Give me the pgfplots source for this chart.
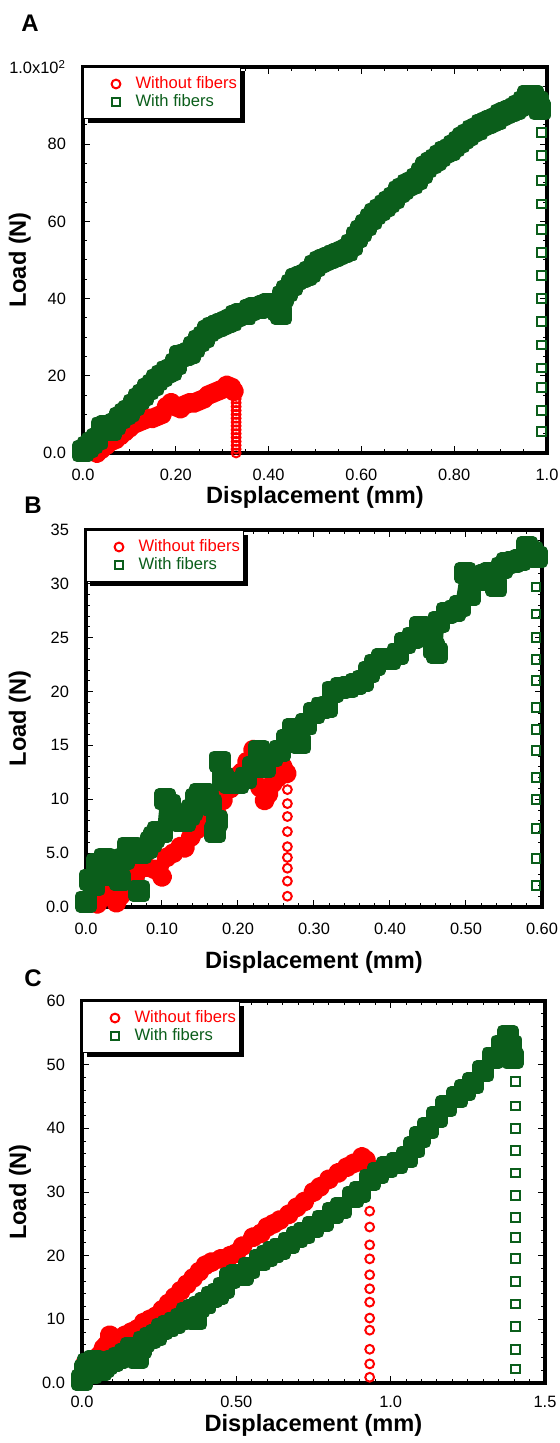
\documentclass[border=0pt]{standalone}
\usepackage{fontspec}
\setmainfont{Liberation Sans}
\usepackage{pgfplots}
\pgfplotsset{compat=1.18}
\usetikzlibrary{shadows}
\definecolor{fred}{HTML}{FF0000}
\definecolor{fgreen}{HTML}{0B5E1B}

\pgfplotsset{
  panel/.style={
    scale only axis, anchor=north west, clip=false,
    axis line style={line width=1.6pt},
    tick align=inside, xtick pos=both, ytick pos=both,
    major tick length=3.5pt, minor tick length=2pt,
    every tick/.style={black, line width=0.5pt},
    tick label style={font=\fontsize{8.2}{9}\selectfont},
    xticklabel style={yshift=-4.5pt},
    yticklabel style={xshift=-5pt},
    label style={font=\bfseries\fontsize{11.8}{13}\selectfont},
    legend style={at={(0,1)}, anchor=north west, draw=black, line width=0.5pt,
      fill=white, font=\fontsize{8.3}{9}\selectfont, inner xsep=0pt, inner ysep=2.5pt,
      row sep=-2.5pt,
      drop shadow={shadow xshift=2pt, shadow yshift=-2pt, fill=black, opacity=1}},
    legend image code/.code={\path (-16pt,0) (7.5pt,0);
      \draw[##1] plot coordinates {(0pt,0pt)};},
    legend cell align=left,
    legend entries={\textcolor{fred}{Without fibers},\textcolor{fgreen}{With fibers}},
  },
  gband/.style={fgreen, line width=5pt, line join=round, mark=square*, mark size=3pt,
    mark options={fill=fgreen}, forget plot},
  rband/.style={fred, line width=4.5pt, line join=round, mark=*, mark size=2.8pt,
    mark options={fill=fred}, forget plot},
  rdrop/.style={only marks, fred, mark=o, mark size=2.2pt, mark options={line width=1pt}},
  gdrop/.style={only marks, fgreen, mark=square, mark size=2.2pt, mark options={line width=1pt}},
}

\begin{document}
\begin{tikzpicture}
\path[use as bounding box] (0,0) rectangle (279.5pt,-721.5pt);

\node[font=\bfseries\fontsize{12}{13}\selectfont] at (15pt,-11.5pt) {A};
\node[font=\bfseries\fontsize{12}{13}\selectfont] at (16.5pt,-252.5pt) {B};
\node[font=\bfseries\fontsize{12}{13}\selectfont] at (16.5pt,-489pt) {C};

% ---------- A ----------
\begin{axis}[panel, at={(41.5pt,-33.5pt)}, width=232pt, height=193pt,
    xmin=0, xmax=1, ymin=0, ymax=100,
    xtick={0,0.2,0.4,0.6,0.8,1}, xticklabels={0.0,0.20,0.40,0.60,0.80,1.0},
    ytick={0,20,40,60,80,100}, yticklabels={0.0,20,40,60,80,1.0x10\textsuperscript{2}},
    minor x tick num=3, minor y tick num=3,
    xlabel={Displacement (mm)}, ylabel={Load (N)},
    xlabel style={at={(axis description cs:0.5,-0.114)}, anchor=center},
    ylabel style={at={(axis description cs:-0.136,0.5)}, anchor=center}]
\addplot[rband] coordinates {
(0.03,0)(0.04,1)(0.05,2)(0.06,3)(0.07,3.5)(0.08,4.5)(0.09,5.5)(0.1,6.5)(0.11,7.5)
(0.12,8)(0.13,8.5)(0.14,9)(0.15,9)(0.16,9.5)(0.17,10)(0.18,12)(0.19,13)(0.2,12)
(0.21,11.5)(0.22,12.5)(0.23,13)(0.24,13)(0.25,13.5)(0.26,14)(0.27,15)(0.28,15.5)
(0.29,16)(0.3,16.5)(0.31,17.5)(0.32,17)(0.325,16)};
\addplot[gband] coordinates {
(0.0,0.5)(0.01,1.5)(0.02,2.5)(0.03,3.5)(0.04,6.5)(0.05,7)(0.06,6)(0.07,7.5)(0.08,9)
(0.09,10)(0.1,11)(0.11,12.5)(0.12,14)(0.13,15)(0.14,16.5)(0.15,17.5)(0.16,19)(0.17,20)
(0.18,21)(0.19,21.5)(0.2,23)(0.21,25)(0.22,25.5)(0.23,26)(0.24,27.5)(0.25,29)(0.26,30)
(0.27,31.5)(0.28,32.5)(0.29,33)(0.3,33.5)(0.31,34)(0.32,34.5)(0.33,35.5)(0.34,36)
(0.35,36)(0.36,37)(0.37,37.5)(0.38,37.5)(0.39,38)(0.4,38.5)(0.41,38)(0.42,37)(0.427,36)
(0.43,40.5)(0.44,42)(0.45,43.5)(0.46,45)(0.47,45.5)(0.48,46)(0.49,47)(0.5,48.5)
(0.51,49.5)(0.52,50)(0.53,50.5)(0.54,51)(0.55,51.5)(0.56,52)(0.57,52.5)(0.58,54)
(0.59,56)(0.6,57.5)(0.61,59)(0.62,60.5)(0.63,62)(0.64,63)(0.65,64)(0.66,65)(0.67,66)
(0.68,67.5)(0.69,68.5)(0.7,69.5)(0.71,70)(0.72,71)(0.73,72.5)(0.74,74)(0.75,75)
(0.76,76)(0.77,77)(0.78,78)(0.79,78.5)(0.8,79.5)(0.81,80.5)(0.82,81.5)(0.83,82.5)
(0.84,83.5)(0.85,84)(0.86,85)(0.87,85.5)(0.88,86)(0.89,86.5)(0.9,87.5)(0.91,88)
(0.92,88.5)(0.93,89)(0.94,90)(0.95,91)(0.96,92.5)(0.97,92.5)(0.98,91)(0.985,89)};
\addplot[rdrop] coordinates {
(0.33,15)(0.33,14)(0.33,13)(0.33,12)(0.33,11)(0.33,10)(0.33,9)(0.33,8)(0.33,7)
(0.33,6)(0.33,5)(0.33,4)(0.33,3)(0.33,2)(0.33,1)(0.33,0)};
\addplot[gdrop] coordinates {
(0.988,83)(0.988,77)(0.988,70.5)(0.988,64.5)(0.988,58)(0.988,52)(0.988,46)
(0.988,40)(0.988,34)(0.988,28)(0.988,22)(0.988,17)(0.988,11)(0.988,5.5)};
\end{axis}

% ---------- B ----------
\begin{axis}[panel, at={(43pt,-265pt)}, width=228pt, height=188.5pt,
    xmin=0, xmax=0.6, ymin=0, ymax=35,
    xtick={0,0.1,0.2,0.3,0.4,0.5,0.6}, xticklabels={0.0,0.10,0.20,0.30,0.40,0.50,0.60},
    ytick={0,5,10,15,20,25,30,35}, yticklabels={0.0,5.0,10,15,20,25,30,35},
    minor x tick num=4, minor y tick num=4,
    xlabel={Displacement (mm)}, ylabel={Load (N)},
    xlabel style={at={(axis description cs:0.5,-0.146)}, anchor=center},
    ylabel style={at={(axis description cs:-0.145,0.5)}, anchor=center}]
\addplot[rband] coordinates {
(0.015,0.3)(0.02,2)(0.025,1)(0.03,1.5)(0.035,2)(0.04,0.4)(0.045,1)(0.05,2)(0.055,2)
(0.06,2.5)(0.065,3)(0.07,3.5)(0.08,3.7)(0.09,3.5)(0.1,2.8)(0.106,4.6)(0.115,5)
(0.124,5.6)(0.13,5.5)(0.138,6.5)(0.146,7.2)(0.155,7.5)(0.16,8)(0.167,8.4)(0.173,8.5)
(0.18,9.9)(0.19,11)(0.198,12.1)(0.205,12.5)(0.212,13.5)(0.22,14.6)(0.225,13)
(0.229,11.1)(0.235,9.9)(0.24,10.5)(0.246,11.5)(0.252,12)(0.259,13)(0.264,12.4)};
\addplot[gband] coordinates {
(0,0.5)(0.005,2.5)(0.01,2)(0.015,4)(0.02,3.5)(0.025,4.5)(0.03,3)(0.035,3.5)(0.04,4)
(0.045,2.5)(0.05,4.5)(0.055,5.5)(0.06,5.5)(0.065,5)(0.07,1.5)(0.072,5)(0.08,5.5)
(0.085,6)(0.09,6.5)(0.095,7)(0.1,7)(0.104,10)(0.11,9.5)(0.115,8.5)(0.12,8.5)(0.125,8)
(0.13,8)(0.135,8.5)(0.14,9)(0.145,10)(0.15,10.5)(0.155,10.5)(0.16,10)(0.165,9.5)
(0.17,7)(0.172,8)(0.176,13.5)(0.18,12)(0.19,11.5)(0.2,11.5)(0.21,12)(0.22,13)
(0.228,14.5)(0.235,13)(0.245,14)(0.255,14.5)(0.265,15.5)(0.272,16.5)(0.282,15.2)
(0.29,17)(0.3,18)(0.31,18.5)(0.317,18.6)(0.325,20)(0.335,20.3)(0.345,20.4)
(0.355,20.7)(0.364,21)(0.372,21.8)(0.38,22.5)(0.39,23)(0.4,23)(0.41,23.5)(0.42,24.5)
(0.43,25)(0.44,26)(0.45,25.5)(0.458,24)(0.462,23.6)(0.465,26.5)(0.475,27.3)
(0.485,27.5)(0.492,27.9)(0.499,31)(0.505,29)(0.518,30.4)(0.525,30.8)(0.532,31)
(0.54,29.8)(0.547,31.5)(0.554,31.9)(0.562,32)(0.571,32.2)(0.58,33.4)(0.587,33)(0.593,32.5)};
\addplot[rdrop] coordinates {
(0.265,12)(0.265,10.9)(0.265,9.6)(0.265,8.4)(0.265,7.0)(0.265,5.6)(0.265,4.6)
(0.265,3.6)(0.265,2.4)(0.265,1.0)};
\addplot[gdrop] coordinates {
(0.592,29.7)(0.592,27.2)(0.592,25)(0.592,23)(0.592,21)(0.592,18.5)(0.592,16.5)
(0.592,14.5)(0.592,12)(0.592,10)(0.592,7.3)(0.592,4.5)(0.592,2)};
\end{axis}

% ---------- C ----------
\begin{axis}[panel, at={(41pt,-500.5pt)}, width=231.5pt, height=191pt,
    xmin=0, xmax=1.5, ymin=0, ymax=60,
    xtick={0,0.5,1,1.5}, xticklabels={0.0,0.50,1.0,1.5},
    xticklabel style={yshift=1.5pt},
    ytick={0,10,20,30,40,50,60}, yticklabels={0.0,10,20,30,40,50,60},
    minor x tick num=9, minor y tick num=4,
    xlabel={Displacement (mm)}, ylabel={Load (N)},
    xlabel style={at={(axis description cs:0.5,-0.112)}, anchor=center},
    ylabel style={at={(axis description cs:-0.134,0.5)}, anchor=center}]
\addplot[rband] coordinates {
(0,0.5)(0.01,3)(0.02,2)(0.03,2.5)(0.04,3.5)(0.05,4)(0.06,4.5)(0.07,5.5)(0.08,6)
(0.09,7.5)(0.1,6.5)(0.11,6.5)(0.12,7)(0.14,7.5)(0.16,8)(0.18,8.5)(0.2,9.5)(0.22,10)
(0.24,10.5)(0.26,11.5)(0.28,12.5)(0.3,13.5)(0.32,14.5)(0.34,15.5)(0.36,16.5)
(0.38,17.5)(0.4,18.5)(0.42,19)(0.45,19.5)(0.48,20)(0.5,20.4)(0.52,21.5)(0.554,22.9)
(0.58,23.5)(0.6,24.5)(0.62,25)(0.641,25.6)(0.67,26.5)(0.696,27.6)(0.72,28.5)(0.75,30)
(0.771,30.8)(0.8,32)(0.83,33)(0.858,33.9)(0.88,34.5)(0.907,35.5)(0.92,35)(0.927,34)};
\addplot[gband] coordinates {
(0,0.5)(0.01,2)(0.02,3)(0.03,1.5)(0.04,3.5)(0.05,3)(0.06,2)(0.07,2.5)(0.08,3)(0.1,3.5)
(0.12,4)(0.14,4.5)(0.16,5.5)(0.18,4)(0.19,5.5)(0.2,6.5)(0.22,7)(0.24,7.5)(0.26,8.5)
(0.28,9)(0.3,9.5)(0.32,10)(0.34,11)(0.36,11.5)(0.37,10)(0.38,12)(0.4,12.5)(0.42,13.5)
(0.44,14)(0.46,15)(0.48,16.5)(0.5,17)(0.52,17)(0.54,18)(0.577,19.3)(0.6,20)(0.62,20.5)
(0.64,21)(0.67,22)(0.696,22.9)(0.72,23.5)(0.749,24.5)(0.78,25.5)(0.813,26.7)(0.84,27.5)
(0.878,29.2)(0.9,30)(0.933,31.9)(0.96,33)(0.988,33.9)(1.02,34.5)(1.053,35.5)(1.075,37)
(1.095,38.6)(1.12,40)(1.15,41.8)(1.18,43.5)(1.215,44.9)(1.24,46)(1.267,47.1)(1.3,49)
(1.33,51)(1.36,53)(1.38,54.5)(1.39,53)(1.395,51)};
\addplot[rdrop] coordinates {
(0.932,27)(0.932,24.5)(0.932,21.7)(0.932,19.5)(0.932,17.0)(0.932,14.8)(0.932,12.7)
(0.932,10.2)(0.932,8.3)(0.932,5.3)(0.932,3.0)(0.932,0.9)};
\addplot[gdrop] coordinates {
(1.405,47.3)(1.405,43.5)(1.405,40)(1.405,36.5)(1.405,33)(1.405,29.5)(1.405,26)
(1.405,22.8)(1.405,19.5)(1.405,15.9)(1.405,12.4)(1.405,8.9)(1.405,5.3)(1.405,2.2)};
\end{axis}
\end{tikzpicture}
\end{document}
